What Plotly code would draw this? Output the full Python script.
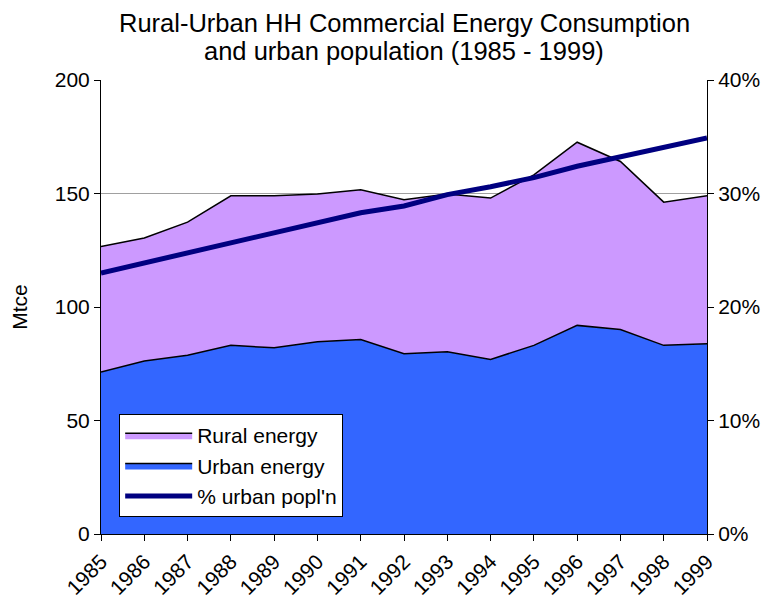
import plotly.graph_objects as go

years = [1985, 1986, 1987, 1988, 1989, 1990, 1991, 1992, 1993, 1994, 1995, 1996, 1997, 1998, 1999]
urban_energy = [71.4, 76.2, 78.7, 83.1, 82.0, 84.7, 85.7, 79.4, 80.3, 76.9, 83.1, 91.9, 90.1, 83.1, 83.8]
rural_energy = [55.3, 54.2, 58.7, 65.9, 67.0, 65.1, 65.9, 67.9, 69.5, 71.1, 75.1, 80.7, 74.0, 63.1, 65.2]
urban_pop_pct = [0.230, 0.239, 0.248, 0.256, 0.265, 0.275, 0.283, 0.289, 0.299, 0.306, 0.314, 0.324, 0.332, 0.341, 0.349]
year_labels = [str(y) for y in years]
title_lines = ["Rural-Urban HH Commercial Energy Consumption", "and urban population (1985 - 1999)"]

FONT = "Liberation Sans, Arial, sans-serif"
PLOT_H = 596 - 72 - 70

fig = go.Figure()
fig.add_trace(go.Scatter(
    x=years, y=urban_energy, name="Urban energy", stackgroup="one",
    mode="lines", line=dict(color="black", width=1.5),
    fillcolor="#3366FF", legendrank=2,
))
fig.add_trace(go.Scatter(
    x=years, y=rural_energy, name="Rural energy", stackgroup="one",
    mode="lines", line=dict(color="black", width=1.5),
    fillcolor="#CC99FF", legendrank=1,
))
fig.add_trace(go.Scatter(
    x=years, y=urban_pop_pct, name="% urban popl'n", yaxis="y2",
    mode="lines", line=dict(color="#000080", width=5), legendrank=3,
))

# title as two single-line annotations (line 1 top-anchored at the figure top)
fig.add_annotation(text=title_lines[0], xref="paper", yref="paper", x=0.5,
                   y=1 + 72 / PLOT_H, xanchor="center", yanchor="top", showarrow=False,
                   borderpad=0, font=dict(size=25.5, family=FONT, color="black"))
fig.add_annotation(text=title_lines[1], xref="paper", yref="paper", x=0.5,
                   y=1 + (72 - 43) / PLOT_H, xanchor="center", yanchor="middle", showarrow=False,
                   borderpad=0, font=dict(size=25.5, family=FONT, color="black"))

# page body has an 8px default margin (left/top), so the figure is 8px smaller and margins compensate
fig.update_layout(
    width=763, height=596,
    margin=dict(l=93, r=64, t=72, b=70, autoexpand=False),
    paper_bgcolor="white", plot_bgcolor="white",
    font=dict(family=FONT, color="black", size=21),
    xaxis=dict(
        range=[1985, 1999], tickmode="array", tickvals=years, ticktext=year_labels,
        tickangle=-45, showgrid=False, zeroline=False, automargin=False,
        showline=True, linecolor="black", linewidth=1,
        ticks="outside", ticklen=6, tickcolor="black",
        tickfont=dict(size=21),
    ),
    yaxis=dict(
        range=[0, 200], dtick=50, showgrid=True, gridcolor="#a0a0a0", gridwidth=1,
        zeroline=False, showline=True, linecolor="black", linewidth=1, automargin=False,
        ticks="outside", ticklen=6, tickcolor="black",
        tickfont=dict(size=21),
        title=dict(text="Mtce", font=dict(size=21), standoff=21),
    ),
    yaxis2=dict(
        range=[0, 0.4], dtick=0.1, tickformat=".0%", overlaying="y", side="right",
        showgrid=False, zeroline=False, showline=True, linecolor="black", linewidth=1,
        automargin=False,
        ticks="outside", ticklen=6, tickcolor="black",
        tickfont=dict(size=21),
    ),
    legend=dict(
        x=0.03, y=0.264, xanchor="left", yanchor="top", traceorder="normal",
        bgcolor="white", bordercolor="black", borderwidth=1,
        font=dict(size=21), itemwidth=67,
    ),
    showlegend=True,
)

fig.write_html("out.html")
